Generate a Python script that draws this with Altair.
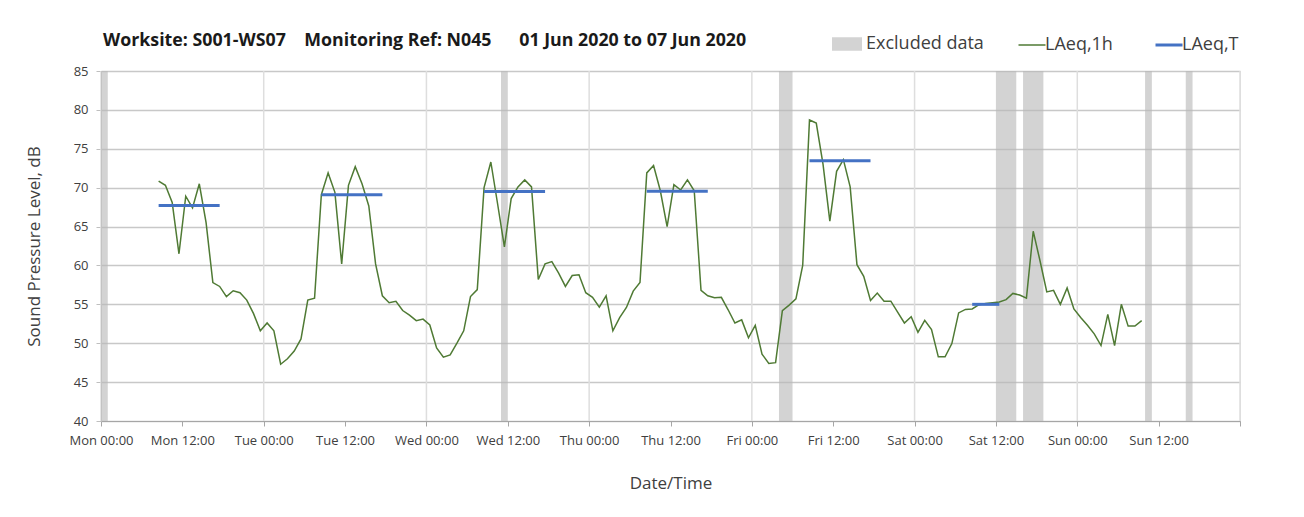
import altair as alt
import pandas as pd

# ---------------- data ----------------
# hourly LAeq,1h values, first value is the hour starting Mon 08:00 (plotted mid-hour)
first_hour = 8
laeq_1h = [
    70.85, 70.3, 68.1, 61.5, 68.9, 67.4, 70.5, 65.5, 57.8, 57.3, 56.0, 56.75, 56.5, 55.55, 53.8, 51.6,
    52.6, 51.6, 47.3, 48.0, 49.0, 50.55, 55.55, 55.8, 69.1, 71.9, 69.4, 60.2, 70.3, 72.7, 70.5, 67.65,
    60.2, 56.1, 55.2, 55.4, 54.2, 53.6, 52.9, 53.1, 52.35, 49.4, 48.2, 48.5, 50.0, 51.6, 56.0, 56.9,
    70.0, 73.3, 67.9, 62.4, 68.6, 70.1, 71.0, 70.1, 58.2, 60.2, 60.5, 59.0, 57.3, 58.7, 58.8, 56.5,
    55.9, 54.65, 56.1, 51.6, 53.3, 54.6, 56.7, 57.8, 71.9, 72.85, 69.6, 65.0, 70.4, 69.7, 71.0, 69.6,
    56.8, 56.1, 55.85, 55.9, 54.3, 52.6, 53.0, 50.7, 52.3, 48.6, 47.4, 47.5, 54.2, 54.9, 55.7, 60.0,
    78.7, 78.3, 73.0, 65.7, 72.1, 73.6, 70.1, 60.1, 58.6, 55.5, 56.45, 55.4, 55.4, 54.0, 52.6, 53.4,
    51.4, 52.95, 51.75, 48.25, 48.25, 49.95, 53.9, 54.35, 54.4, 54.95, 55.1, 55.2, 55.3, 55.6, 56.4,
    56.2, 55.8, 64.4, 60.6, 56.6, 56.8, 55.0, 57.1, 54.4, 53.3, 52.3, 51.2, 49.7, 53.7, 49.7, 55.0,
    52.2, 52.2, 52.9,
]

# excluded periods (hours from Mon 00:00)
excl_start = [0, 59, 100, 132, 136, 154, 160]
excl_end = [1, 60, 102, 135, 139, 155, 161]

# LAeq,T periods (hours from Mon 00:00) and levels
period_start = [8.5, 32.5, 56.5, 80.5, 104.5, 128.5]
period_end = [17.5, 41.5, 65.5, 89.5, 113.5, 132.5]
period_level = [67.7, 69.1, 69.5, 69.55, 73.45, 55.0]

day_names = ["Mon", "Tue", "Wed", "Thu", "Fri", "Sat", "Sun"]
x_ticks = list(range(0, 169, 12))
day_bounds = list(range(0, 169, 24))
y_ticks = list(range(40, 86, 5))
y_min, y_max = 40, 85

series_names = ["LAeq,1h", "LAeq,T"]
series_colors = ["#4f7a34", "#4472c4"]

title_text = ("Worksite: S001-WS07\u00a0\u00a0\u00a0\u00a0Monitoring Ref: N045"
              "\u00a0\u00a0\u00a0\u00a0\u00a0\u00a001 Jun 2020 to 07 Jun 2020")

# ---------------- tables ----------------
df_line = pd.DataFrame({
    "h": [first_hour + i + 0.5 for i in range(len(laeq_1h))],
    "v": laeq_1h,
    "series": "LAeq,1h",
})
rows = []
for k, (a, b, lv) in enumerate(zip(period_start, period_end, period_level)):
    rows.append({"h": a, "v": lv, "series": "LAeq,T", "p": k})
    rows.append({"h": b, "v": lv, "series": "LAeq,T", "p": k})
df_per = pd.DataFrame(rows)
df_excl = pd.DataFrame({"h": excl_start, "h2": excl_end, "v": y_min, "v2": y_max,
                        "label": "Excluded data"})
df_days = pd.DataFrame({"h": day_bounds, "v": y_min, "v2": y_max})

FONT = "Open Sans"
W, H = 1139, 350

label_expr = ("datum.value >= 168 ? '' : " + str(day_names) +
              "[floor(datum.value / 24)] + ' ' + (datum.value % 24 == 0 ? '00:00' : '12:00')")

x_scale = alt.Scale(domain=[0, 168], nice=False, zero=False)
y_scale = alt.Scale(domain=[y_min, y_max], nice=False, zero=False)

x_axis = alt.Axis(values=x_ticks, labelExpr=label_expr, grid=False, tickSize=5,
                  tickColor="#a6a6a6", domainColor="#a6a6a6", labelFont=FONT, labelFontSize=13,
                  labelColor="#404040", labelPadding=8, labelOverlap=False, labelFlush=False,
                  title="Date/Time", titleFont=FONT, titleFontSize=17, titleFontWeight="normal",
                  titleColor="#404040", titlePadding=28)
y_axis = alt.Axis(values=y_ticks, grid=True, gridColor="#c8c8c8", gridWidth=1.4, tickSize=5,
                  tickColor="#bfbfbf", domainColor="#bfbfbf", labelFont=FONT, labelFontSize=13,
                  labelColor="#404040", labelPadding=8, labelOverlap=False, labelFlush=False,
                  labelSeparation=0,
                  title="Sound Pressure Level, dB", titleFont=FONT, titleFontSize=17,
                  titleFontWeight="normal", titleColor="#404040", titlePadding=30)

X = alt.X("h:Q", scale=x_scale, axis=x_axis)
Y = alt.Y("v:Q", scale=y_scale, axis=y_axis)

days = alt.Chart(df_days).mark_rule(color="#dedede", strokeWidth=1.5).encode(
    x=X, y=Y, y2="v2:Q")

excl = alt.Chart(df_excl).mark_rect(opacity=0.62).encode(
    x=X, x2="h2:Q", y=Y, y2="v2:Q",
    fill=alt.Fill("label:N", scale=alt.Scale(domain=["Excluded data"], range=["#b8b8b8"]),
                  legend=alt.Legend(title=None, orient="none", legendX=731, legendY=-42,
                                    direction="horizontal", symbolType="M-1,-0.45H1V0.45H-1Z",
                                    symbolSize=900, symbolStrokeWidth=0, labelFont=FONT,
                                    labelFontSize=18, labelColor="#404040", labelOffset=4)))

stroke_enc = alt.Stroke("series:N", scale=alt.Scale(domain=series_names, range=series_colors),
                        legend=alt.Legend(title=None, orient="none", legendX=922, legendY=-35,
                                          direction="horizontal", symbolType="stroke",
                                          symbolSize=729,
                                          symbolStrokeWidth={"expr": "datum.value == 'LAeq,T' ? 3 : 1.5"},
                                          labelFont=FONT, labelFontSize=18, labelColor="#404040",
                                          labelOffset=4, columnPadding=36))

line = alt.Chart(df_line).mark_line(strokeWidth=1.5).encode(x=X, y=Y, stroke=stroke_enc)

per = alt.Chart(df_per).mark_line(strokeWidth=3).encode(
    x=X, y=Y, stroke=stroke_enc, detail="p:N")

chart = alt.layer(days, excl, line, per).properties(
    width=W, height=H,
    autosize=alt.AutoSizeParams(type="none"),
    padding={"left": 93, "top": 63, "right": 48, "bottom": 80},
    title=alt.Title(title_text, anchor="start", frame="group", font=FONT, fontSize=17.8,
                    fontWeight="bold", color="#1a1a1a", offset=-21, dx=2),
).configure_view(stroke=None).configure_axis(labelOverlap=False).configure(background="white")

chart.save("out.html", embed_options={"renderer": "svg", "actions": False})
